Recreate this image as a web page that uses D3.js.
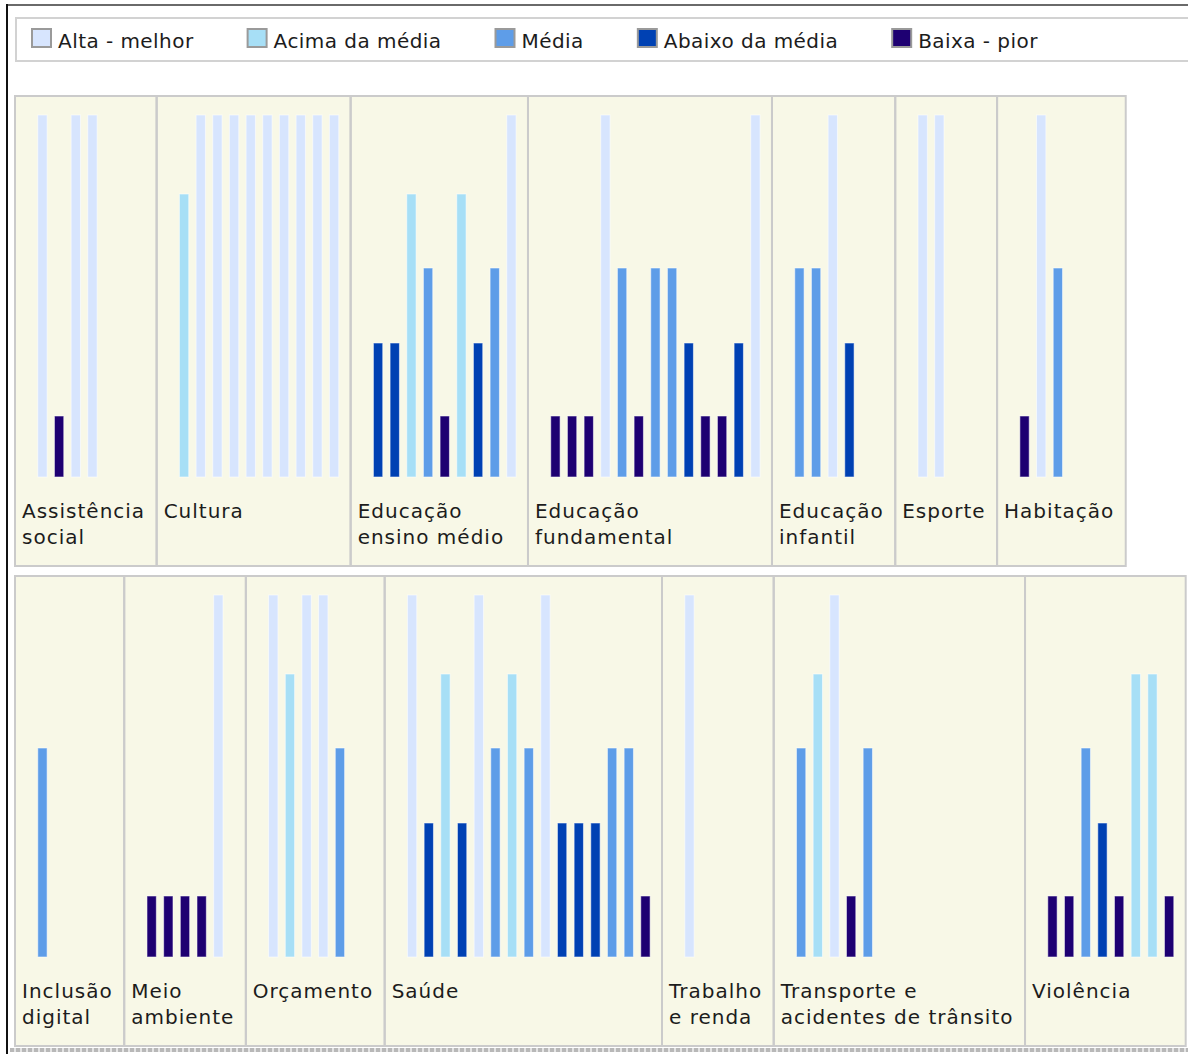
<!DOCTYPE html>
<html><head><meta charset="utf-8">
<script src="https://cdn.jsdelivr.net/npm/d3@7"></script>
<style>
html,body{margin:0;padding:0;background:#fff;overflow:hidden;}
svg{display:block;font-family:"DejaVu Sans",Verdana,sans-serif;}
</style></head><body><svg id="c" width="1188" height="1054"></svg>
<script>
// level codes: 1 = Baixa - pior ... 5 = Alta - melhor
const levelCodes = [1, 2, 3, 4, 5];
const levelNames = ["Baixa - pior", "Abaixo da média", "Média", "Acima da média", "Alta - melhor"];
const legendOrder = [5, 4, 3, 2, 1];

const categories = [
  "Assistência\nsocial", "Cultura", "Educação\nensino médio", "Educação\nfundamental",
  "Educação\ninfantil", "Esporte", "Habitação",
  "Inclusão\ndigital", "Meio\nambiente", "Orçamento", "Saúde", "Trabalho\ne renda",
  "Transporte e\nacidentes de trânsito", "Violência"
];
const scores = [
  [5, 1, 5, 5],
  [4, 5, 5, 5, 5, 5, 5, 5, 5, 5],
  [2, 2, 4, 3, 1, 4, 2, 3, 5],
  [1, 1, 1, 5, 3, 1, 3, 3, 2, 1, 1, 2, 5],
  [3, 3, 5, 2],
  [5, 5],
  [1, 5, 3],
  [3],
  [1, 1, 1, 1, 5],
  [5, 4, 5, 5, 3],
  [5, 2, 4, 2, 5, 3, 4, 3, 5, 2, 2, 2, 3, 3, 1],
  [5],
  [3, 4, 5, 1, 3],
  [1, 1, 3, 2, 1, 4, 4, 1]
];
const panelsPerRow = [7, 7];

const svg = d3.select("#c");
const color = d3.scaleOrdinal().domain(levelCodes)
  .range(["#1e0072", "#0041b3", "#5e9de8", "#a7dff6", "#d7e5fe"]);
const nameOf = d3.scaleOrdinal().domain(levelCodes).range(levelNames);

const FONT = 20;
function styleText(sel, ls) {
  return sel.attr("font-size", FONT).attr("letter-spacing", ls).attr("fill", "#1c1c1c");
}

// page frame
svg.append("line").attr("x1", 6).attr("x2", 1188).attr("y1", 5).attr("y2", 5)
  .attr("stroke", "#6a6a6a").attr("stroke-width", 2);
svg.append("line").attr("x1", 7).attr("x2", 7).attr("y1", 4).attr("y2", 1054)
  .attr("stroke", "#111").attr("stroke-width", 2);

// legend
svg.append("rect").attr("x", 16).attr("y", 18).attr("width", 1200).attr("height", 43)
  .attr("fill", "#fff").attr("stroke", "#d2d2d2").attr("stroke-width", 2);
let lx = 31;
legendOrder.forEach(code => {
  svg.append("rect").attr("x", lx + 1).attr("y", 29).attr("width", 19).attr("height", 18)
    .attr("fill", color(code)).attr("stroke", "#9a9a9a").attr("stroke-width", 2);
  const t = styleText(svg.append("text"), 0.45).attr("x", lx + 27).attr("y", 48).text(nameOf(code));
  lx = lx + 27 + t.node().getComputedTextLength() + 53;
});

// panels
const STEP = 16.667, PANEL_H = 470;
const yLevel = d3.scaleLinear().domain([0, 1, 2, 3, 4, 5]).range([381, 320, 247, 172, 98, 19]);

let idx = 0;
panelsPerRow.forEach((count, r) => {
  const y0 = 96 + r * 480;
  let x = 15;
  const rowG = svg.append("g");
  const fills = rowG.append("g"), strokes = rowG.append("g"), content = rowG.append("g");
  for (let k = 0; k < count; k++, idx++) {
    const vals = scores[idx];
    const n = vals.length;
    const lines = categories[idx].split("\n");
    const tg = content.append("g");
    let lw = 0;
    lines.forEach((ln, i) => {
      const t = styleText(tg.append("text"), 1.0).attr("x", x + 7).attr("y", y0 + 422 + i * 25.5).text(ln);
      lw = Math.max(lw, t.node().getComputedTextLength());
    });
    const W = Math.max(44 + (n - 1) * STEP, lw + 18.5);
    fills.append("rect").attr("x", x).attr("y", y0).attr("width", W).attr("height", PANEL_H)
      .attr("fill", "#f8f8e7");
    strokes.append("rect").attr("x", x).attr("y", y0).attr("width", W).attr("height", PANEL_H)
      .attr("fill", "none").attr("stroke", "#cbcbcb").attr("stroke-width", 2);
    const xb = d3.scaleBand().domain(d3.range(n))
      .range([x + 19.1, x + 19.1 + n * STEP]).paddingInner(0.44).paddingOuter(0.22);
    content.append("g").selectAll("rect").data(vals).join("rect")
      .attr("x", (d, i) => xb(i))
      .attr("width", xb.bandwidth())
      .attr("y", d => y0 + yLevel(d))
      .attr("height", d => yLevel(0) - yLevel(d))
      .attr("fill", d => color(d))
      .attr("stroke", "#ffffff").attr("stroke-opacity", 0.55).attr("stroke-width", 1);
    x += W;
  }
});

// bottom dotted border
svg.append("line").attr("x1", 10).attr("x2", 1188).attr("y1", 1050).attr("y2", 1050)
  .attr("stroke", "#e4e4e4").attr("stroke-width", 4);
svg.append("line").attr("x1", 10).attr("x2", 1188).attr("y1", 1050).attr("y2", 1050)
  .attr("stroke", "#b8b8b8").attr("stroke-width", 4).attr("stroke-dasharray", "4,2");
</script></body></html>
